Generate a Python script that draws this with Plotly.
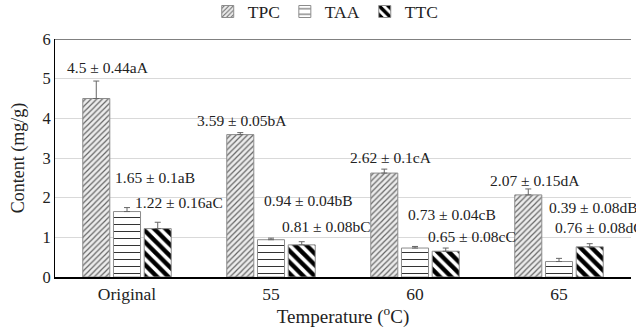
import plotly.graph_objects as go

categories = ["Original", "55", "60", "65"]
series_names = ["TPC", "TAA", "TTC"]
tpc = [4.5, 3.59, 2.62, 2.07]
taa = [1.65, 0.94, 0.73, 0.39]
ttc = [1.22, 0.81, 0.65, 0.76]
tpc_err = [0.44, 0.05, 0.10, 0.15]
taa_err = [0.10, 0.04, 0.04, 0.08]
ttc_err = [0.16, 0.08, 0.08, 0.08]
tpc_letters = ["aA", "bA", "cA", "dA"]
taa_letters = ["aB", "bB", "cB", "dB"]
ttc_letters = ["aC", "bC", "cC", "dC"]

# label placement (layout, data coordinates)
label_x = {
    "TPC": [-0.132, 0.799, 1.833, 2.830],
    "TAA": [0.192, 1.257, 2.260, 3.243],
    "TTC": [0.361, 1.382, 2.399, 3.281],
}
label_y = {
    "TPC": [5.28, 3.95, 3.02, 2.44],
    "TAA": [2.52, 1.94, 1.58, 1.76],
    "TTC": [1.89, 1.28, 1.03, 1.26],
}

FONT = "Liberation Serif, Times New Roman, serif"

styles = {
    "TPC": dict(shape="/", fgcolor="#666666", bgcolor="#ececec", size=4, solidity=0.3),
    "TAA": dict(shape="-", fgcolor="#333333", bgcolor="#ffffff", size=7, solidity=0.15),
    "TTC": dict(shape="\\", fgcolor="#000000", bgcolor="#ffffff", size=8, solidity=0.55),
}

data = {"TPC": (tpc, tpc_err, tpc_letters),
        "TAA": (taa, taa_err, taa_letters),
        "TTC": (ttc, ttc_err, ttc_letters)}

fig = go.Figure()
for name in series_names:
    vals, errs, _ = data[name]
    st = styles[name]
    fig.add_trace(go.Bar(
        name=name, x=categories, y=vals,
        marker=dict(color=st["bgcolor"],
                    pattern=dict(shape=st["shape"], fgcolor=st["fgcolor"], bgcolor=st["bgcolor"],
                                 size=st["size"], solidity=st["solidity"], fgopacity=1,
                                 fillmode="replace"),
                    line=dict(color="#8c8c8c", width=1)),
        error_y=dict(type="data", array=errs, arrayminus=[0] * len(errs),
                     symmetric=False, color="#666666", thickness=1, width=3),
    ))

annotations = []
for name in series_names:
    vals, errs, letters = data[name]
    for i in range(len(vals)):
        annotations.append(dict(
            x=label_x[name][i], y=label_y[name][i], xref="x", yref="y",
            text=f"{vals[i]:g} ± {errs[i]:g}{letters[i]}",
            showarrow=False, font=dict(family=FONT, size=15.5, color="#222222"),
            xanchor="center", yanchor="middle"))

fig.update_layout(
    width=636, height=328,
    margin=dict(l=55, r=5, t=39, b=51, autoexpand=False),
    paper_bgcolor="white", plot_bgcolor="white",
    barmode="group", bargap=0.36, bargroupgap=0.12,
    font=dict(family=FONT, size=16, color="#222222"),
    legend=dict(orientation="h", x=0.47, xanchor="center", y=1.115, yref="paper",
                yanchor="middle", font=dict(family=FONT, size=17.5, color="#222222"),
                itemwidth=30, traceorder="normal"),
    annotations=annotations,
    shapes=[dict(type="line", xref="paper", yref="y", x0=0, x1=1, y0=6, y1=6,
                 line=dict(color="#808080", width=2))],
)
fig.update_xaxes(
    showline=True, linecolor="#000000", linewidth=1.5,
    ticks="", range=[-0.5, 3.5],
    tickfont=dict(family=FONT, size=17.5),
    title=dict(text="Temperature (<sup>o</sup>C)", font=dict(family=FONT, size=19), standoff=6),
)
fig.update_yaxes(
    range=[0, 6], tickvals=[0, 1, 2, 3, 4, 5, 6], showgrid=True, gridcolor="#d9d9d9",
    gridwidth=1, showline=True, linecolor="#000000", linewidth=1, zeroline=False,
    ticks="", tickfont=dict(family=FONT, size=16.5),
    title=dict(text="Content (mg/g)", font=dict(family=FONT, size=18), standoff=13),
)

fig.write_html("out.html")
